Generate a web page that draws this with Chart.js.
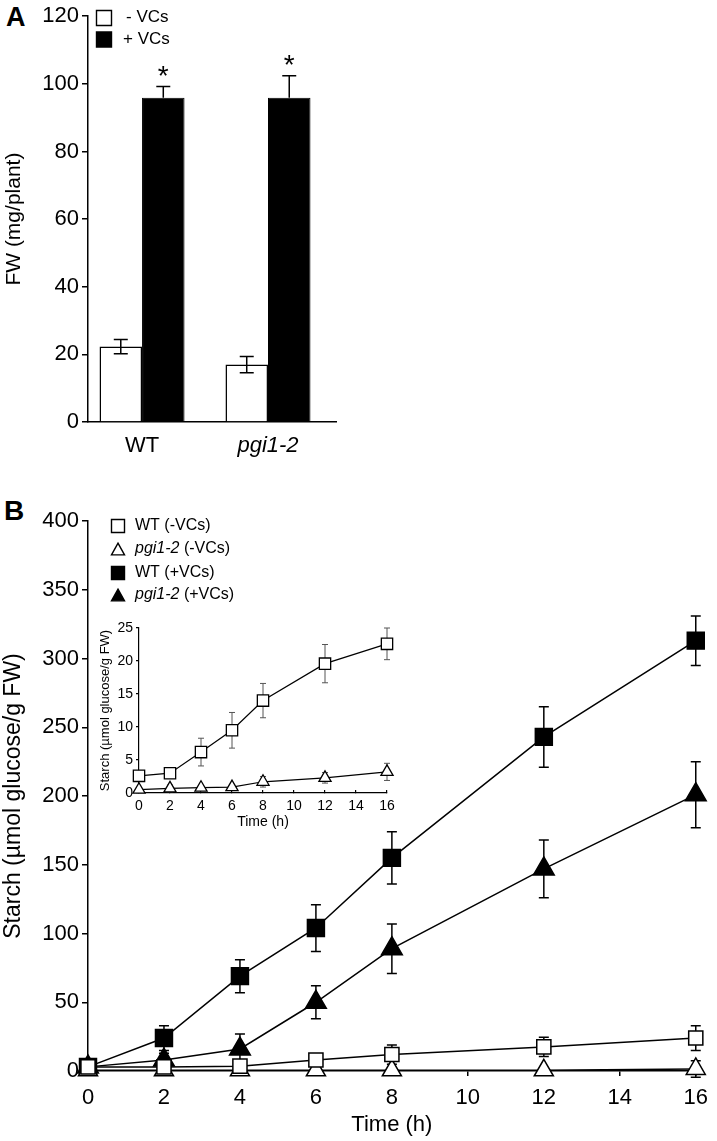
<!DOCTYPE html>
<html>
<head>
<meta charset="utf-8">
<script src="https://cdn.jsdelivr.net/npm/chart.js@4.4.1/dist/chart.umd.min.js"></script>
<style>
    body { margin: 0; background: #fff; }
    #marco { position: relative; width: 717px; height: 1141px; }
    canvas { position: absolute; }
    .panel { position: absolute; font-family: "Liberation Sans", Arial, sans-serif; font-weight: bold; line-height: 1; }
</style>
</head>
<body>
<div id="marco">
    <div class="panel" style="left:6px;top:4px;font-size:27px">A</div>
    <div class="panel" style="left:4px;top:497px;font-size:28px">B</div>
    <canvas id="graficoA" width="717" height="480" style="left:0;top:0"></canvas>
    <canvas id="graficoB" width="717" height="651" style="left:0;top:490px"></canvas>
    <canvas id="graficoInset" width="314" height="226" style="left:94px;top:605px"></canvas>
</div>
<script>
const FUENTE = "'Liberation Sans', Arial, Helvetica, sans-serif";

// Panel A - peso fresco
const grupos = ["WT", "pgi1-2"];
const posGrupos = [1, 2];
const fwMenos = [22.3, 17];
const fwMenosErr = [2.1, 2.4];
const fwMas = [95.9, 95.9];
const fwMasErr = [3.3, 6.5];
const ticksFw = [0, 20, 40, 60, 80, 100, 120];
const leyendaA = ["- VCs", "+ VCs"];

// Panel B - almidon (grafico principal)
const horas = [0, 2, 4, 6, 8, 12, 16];
const ticksHoras = [0, 2, 4, 6, 8, 10, 12, 14, 16];
const ticksAlmidon = [0, 50, 100, 150, 200, 250, 300, 350, 400];
const wtMenos = [3, 3, 3.5, 8, 12, 17.5, 24];
const wtMenosErr = [1, 1, 1, 4, 7, 7, 9];
const pgiMenos = [0.5, 0.5, 0.5, 0.5, 0.5, 0.5, 1.5];
const pgiMenosErr = [0.5, 0.5, 0.5, 0.5, 0.5, 0.5, 6];
const wtMas = [3, 24, 69, 104, 155, 243, 313];
const wtMasErr = [1, 9, 12, 17, 19, 22, 18];
const pgiMas = [3, 8, 16, 50, 89, 147, 201];
const pgiMasErr = [1, 5, 11, 12, 18, 21, 24];
const leyendaB = ["WT (-VCs)", "pgi1-2 (-VCs)", "WT (+VCs)", "pgi1-2 (+VCs)"];

// Inset - solo -VCs
const ticksInsetY = [0, 5, 10, 15, 20, 25];
const insetWt = [2.6, 3.0, 6.2, 9.5, 14.0, 19.6, 22.6];
const insetWtErr = [0.6, 0.5, 2.1, 2.7, 2.6, 2.9, 2.4];
const insetPgi = [0.5, 0.7, 0.8, 0.9, 1.7, 2.3, 3.2];
const insetPgiErr = [0.3, 0.5, 0.3, 0.3, 0.8, 0.8, 1.3];

Chart.defaults.font.family = FUENTE;
Chart.defaults.color = "#000";
Chart.defaults.animation = false;

function puntos(xs, ys) {
    return xs.map((x, i) => ({ x: x, y: ys[i] }));
}

function dibujarErrores(chart, opts) {
    const ctx = chart.ctx;
    const escalaY = chart.scales.y;
    chart.data.datasets.forEach((ds, i) => {
        if (!ds.errores) return;
        const meta = chart.getDatasetMeta(i);
        ctx.save();
        ctx.strokeStyle = opts.color || "#000";
        ctx.lineWidth = opts.grosor || 1.5;
        meta.data.forEach((el, j) => {
            const v = ds.data[j].y;
            const e = ds.errores[j];
            const x = el.x;
            const yArriba = escalaY.getPixelForValue(v + e);
            const yAbajo = escalaY.getPixelForValue(ds.soloArriba ? v : v - e);
            ctx.beginPath();
            ctx.moveTo(x, yAbajo);
            ctx.lineTo(x, yArriba);
            ctx.moveTo(x - opts.tapa, yArriba);
            ctx.lineTo(x + opts.tapa, yArriba);
            if (!ds.soloArriba) {
                ctx.moveTo(x - opts.tapa, yAbajo);
                ctx.lineTo(x + opts.tapa, yAbajo);
            }
            ctx.stroke();
        });
        ctx.restore();
    });
}

const barrasError = {
    id: "barrasError",
    beforeDatasetsDraw(chart, args, opts) {
        if (!opts.encima) dibujarErrores(chart, opts);
    },
    afterDatasetsDraw(chart, args, opts) {
        if (opts.encima) dibujarErrores(chart, opts);
    },
};

function textoMixto(ctx, texto, x, y, size) {
    // "pgi1-2" va en cursiva
    const partes = texto.startsWith("pgi1-2")
        ? [["pgi1-2", true], [texto.slice(6), false]]
        : [[texto, false]];
    partes.forEach(([t, cursiva]) => {
        ctx.font = (cursiva ? "italic " : "") + size + "px " + FUENTE;
        ctx.fillText(t, x, y);
        x += ctx.measureText(t).width;
    });
}

function dibujarMarcador(ctx, forma, relleno, x, y, lado) {
    ctx.save();
    ctx.fillStyle = relleno ? "#000" : "#fff";
    ctx.strokeStyle = "#000";
    ctx.lineWidth = 1.4;
    ctx.beginPath();
    if (forma === "rect") {
        ctx.rect(x - lado / 2, y - lado / 2, lado, lado);
    } else {
        const h = lado * 0.9;
        ctx.moveTo(x, y - h / 2);
        ctx.lineTo(x + lado / 2, y + h / 2);
        ctx.lineTo(x - lado / 2, y + h / 2);
        ctx.closePath();
    }
    ctx.fill();
    ctx.stroke();
    ctx.restore();
}

// leyenda y asteriscos del panel A
const extrasA = {
    id: "extrasA",
    afterDraw(chart) {
        const ctx = chart.ctx;
        ctx.save();
        dibujarMarcador(ctx, "rect", false, 104, 18, 15);
        dibujarMarcador(ctx, "rect", true, 104, 39.5, 15);
        ctx.fillStyle = "#000";
        ctx.textBaseline = "middle";
        ctx.font = "17px " + FUENTE;
        ctx.fillText(leyendaA[0], 126, 17);
        ctx.fillText(leyendaA[1], 123, 39);

        const meta = chart.getDatasetMeta(1);
        ctx.font = "28px " + FUENTE;
        ctx.textAlign = "center";
        ctx.textBaseline = "alphabetic";
        meta.data.forEach((el, j) => {
            const tope = chart.scales.y.getPixelForValue(fwMas[j] + fwMasErr[j]);
            ctx.fillText("*", el.x, tope - 2);
        });
        ctx.restore();
    },
};

const leyendaPlugB = {
    id: "leyendaPlugB",
    afterDraw(chart) {
        const ctx = chart.ctx;
        const formas = ["rect", "triangle", "rect", "triangle"];
        const rellenos = [false, false, true, true];
        const filas = [36, 59, 83, 105];
        ctx.save();
        ctx.fillStyle = "#000";
        ctx.textBaseline = "middle";
        leyendaB.forEach((txt, i) => {
            dibujarMarcador(ctx, formas[i], rellenos[i], 118, filas[i], 13);
            ctx.fillStyle = "#000";
            textoMixto(ctx, txt, 135, filas[i], 16);
        });
        ctx.restore();
    },
};

// ---------- Panel A ----------
new Chart(document.getElementById("graficoA"), {
    type: "bar",
    data: {
        datasets: [
            {
                label: leyendaA[0],
                data: puntos(posGrupos, fwMenos),
                errores: fwMenosErr,
                backgroundColor: "#fff",
                borderColor: "#000",
                borderWidth: 1.5,
            },
            {
                label: leyendaA[1],
                data: puntos(posGrupos, fwMas),
                errores: fwMasErr,
                soloArriba: true,
                backgroundColor: "#000",
                borderColor: "#000",
                borderWidth: 1,
            },
        ],
    },
    options: {
        responsive: false,
        categoryPercentage: 0.675,
        barPercentage: 1,
        layout: { padding: { top: 13, right: 381, left: 0, bottom: 0 } },
        plugins: {
            legend: { display: false },
            tooltip: { enabled: false },
            barrasError: { encima: true, tapa: 7, grosor: 1.5 },
        },
        scales: {
            x: {
                type: "linear",
                offset: false,
                min: 0.571,
                max: 2.54,
                afterBuildTicks: (s) => { s.ticks = posGrupos.map((v) => ({ value: v })); },
                afterFit: (s) => { s.height = 58; },
                grid: { display: false, offset: false },
                border: { display: true, color: "#000", width: 1.5 },
                ticks: {
                    padding: 3,
                    callback: (v) => grupos[posGrupos.indexOf(v)],
                    font: (c) => ({
                        family: FUENTE,
                        size: 22,
                        style: c.tick && c.tick.value === 2 ? "italic" : "normal",
                    }),
                },
            },
            y: {
                min: 0,
                max: 120,
                afterBuildTicks: (s) => { s.ticks = ticksFw.map((v) => ({ value: v })); },
                afterFit: (s) => { s.width = 88; },
                grid: { drawOnChartArea: false, drawTicks: true, tickLength: 6, color: "#000", lineWidth: 1.5 },
                border: { display: true, color: "#000", width: 1.5 },
                ticks: { padding: 3, font: { size: 22 } },
                title: { display: true, text: "FW (mg/plant)", font: { size: 21 }, padding: { top: 2, bottom: 0 } },
            },
        },
    },
    plugins: [barrasError, extrasA],
});

// ---------- Panel B ----------
function serie(nombre, ys, errs, forma, relleno, radio) {
    return {
        label: nombre,
        data: puntos(horas, ys),
        errores: errs,
        borderColor: "#000",
        borderWidth: 1.5,
        pointStyle: forma,
        pointRadius: radio,
        pointBorderWidth: 1.5,
        pointBorderColor: "#000",
        pointBackgroundColor: relleno ? "#000" : "#fff",
        clip: false,
    };
}

new Chart(document.getElementById("graficoB"), {
    type: "line",
    data: {
        datasets: [
            serie(leyendaB[0], wtMenos, wtMenosErr, "rect", false, 10),
            serie(leyendaB[1], pgiMenos, pgiMenosErr, "triangle", false, 11),
            serie(leyendaB[2], wtMas, wtMasErr, "rect", true, 12),
            serie(leyendaB[3], pgiMas, pgiMasErr, "triangle", true, 12),
        ],
    },
    options: {
        responsive: false,
        layout: { padding: { top: 31, right: 14, left: 0, bottom: 0 } },
        plugins: {
            legend: { display: false },
            tooltip: { enabled: false },
            barrasError: { encima: false, tapa: 5, grosor: 1.5 },
        },
        scales: {
            x: {
                type: "linear",
                min: 0,
                max: 16,
                afterBuildTicks: (s) => { s.ticks = ticksHoras.map((v) => ({ value: v })); },
                afterFit: (s) => { s.height = 70; },
                grid: { drawOnChartArea: false, drawTicks: true, tickLength: 5, color: "#000", lineWidth: 1.5 },
                border: { display: true, color: "#000", width: 1.5 },
                ticks: { padding: 9, font: { size: 22 } },
                title: { display: true, text: "Time (h)", font: { size: 22 }, padding: { top: 0, bottom: 3 } },
            },
            y: {
                min: 0,
                max: 400,
                afterBuildTicks: (s) => { s.ticks = ticksAlmidon.map((v) => ({ value: v })); },
                afterFit: (s) => { s.width = 88; },
                grid: { drawOnChartArea: false, drawTicks: true, tickLength: 6, color: "#000", lineWidth: 1.5 },
                border: { display: true, color: "#000", width: 1.5 },
                ticks: { padding: 3, font: { size: 22 } },
                title: { display: true, text: "Starch (\u00b5mol glucose/g FW)", font: { size: 23 }, padding: { top: 0, bottom: 0 } },
            },
        },
    },
    plugins: [barrasError, leyendaPlugB],
});

// ---------- Inset ----------
function serieInset(nombre, ys, errs, forma, radio) {
    return {
        label: nombre,
        data: puntos(horas, ys),
        errores: errs,
        borderColor: "#000",
        borderWidth: 1.2,
        pointStyle: forma,
        pointRadius: radio,
        pointBorderWidth: 1.3,
        pointBorderColor: "#000",
        pointBackgroundColor: "#fff",
        clip: false,
    };
}

new Chart(document.getElementById("graficoInset"), {
    type: "line",
    data: {
        datasets: [
            serieInset(leyendaB[0], insetWt, insetWtErr, "rect", 8),
            serieInset(leyendaB[1], insetPgi, insetPgiErr, "triangle", 7),
        ],
    },
    options: {
        responsive: false,
        layout: { padding: { top: 23, right: 21, left: 0, bottom: 0 } },
        plugins: {
            legend: { display: false },
            tooltip: { enabled: false },
            barrasError: { encima: false, tapa: 3, grosor: 1, color: "#555" },
        },
        scales: {
            x: {
                type: "linear",
                min: 0,
                max: 16,
                afterBuildTicks: (s) => { s.ticks = ticksHoras.map((v) => ({ value: v })); },
                afterFit: (s) => { s.height = 38; },
                grid: { drawOnChartArea: false, drawTicks: true, tickLength: -3, color: "#000", lineWidth: 1.2 },
                border: { display: true, color: "#000", width: 1.2 },
                ticks: { padding: 8, font: { size: 14 } },
                title: { display: true, text: "Time (h)", font: { size: 14 }, padding: { top: 0, bottom: 0 } },
            },
            y: {
                min: 0,
                max: 25,
                afterBuildTicks: (s) => { s.ticks = ticksInsetY.map((v) => ({ value: v })); },
                afterFit: (s) => { s.width = 45; },
                grid: { drawOnChartArea: false, drawTicks: true, tickLength: 3, color: "#000", lineWidth: 1.2 },
                border: { display: true, color: "#000", width: 1.2 },
                ticks: { padding: 3, font: { size: 14 } },
                title: { display: true, text: "Starch (\u00b5mol glucose/g FW)", font: { size: 13 }, padding: { top: 4, bottom: 0 } },
            },
        },
    },
    plugins: [barrasError],
});
</script>
</body>
</html>
